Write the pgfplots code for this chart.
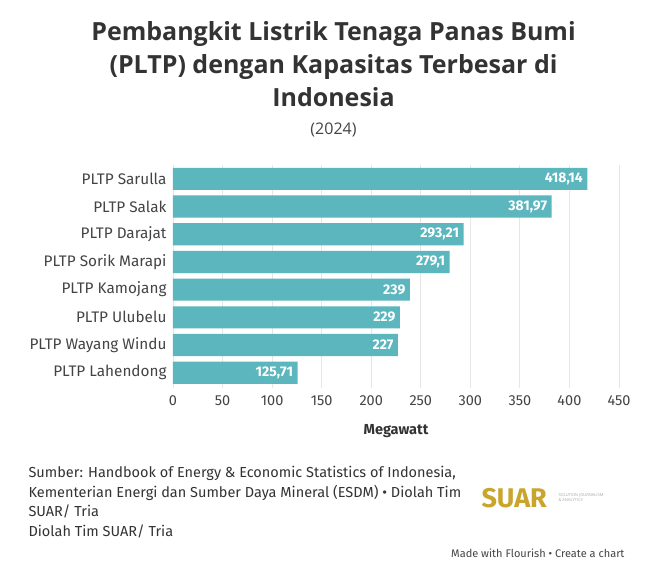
\documentclass[border=0pt]{standalone}
\usepackage{pgfplots}
\pgfplotsset{compat=1.18}
\usepackage{fontspec}
\setmainfont{Open Sans}
\newfontfamily\labfont{Fira Sans}
\definecolor{barc}{HTML}{5BB6BE}
\definecolor{txt}{HTML}{333333}
\definecolor{ticktxt}{HTML}{444444}
\definecolor{gridc}{HTML}{E6E6E6}
\definecolor{gold}{HTML}{C9A52E}
\pgfplotstableread[col sep=comma]{
idx,val,lab
0,125.71,{125,71}
1,227,227
2,229,229
3,239,239
4,279.1,{279,1}
5,293.21,{293,21}
6,381.97,{381,97}
7,418.14,{418,14}
}\datatab
\begin{document}
\begin{tikzpicture}[x=1pt,y=1pt]
\fill[white] (0,0) rectangle (667,567);
% title
\node[font=\fontsize{25}{33}\selectfont\bfseries, text=txt, align=center, anchor=center] at (333.5,503) {Pembangkit Listrik Tenaga Panas Bumi\\(PLTP) dengan Kapasitas Terbesar di\\Indonesia};
\node[font=\fontsize{16}{18}\selectfont, text=ticktxt, anchor=center] at (333.5,437) {(2024)};
\begin{axis}[
  at={(173pt,179pt)}, anchor=south west,
  scale only axis, width=446pt, height=223pt,
  xbar, bar width=0.8,
  xmin=0, xmax=450, ymin=-0.55, ymax=7.5,
  xtick={0,50,...,450},
  ytick={0,...,7},
  yticklabels={PLTP Lahendong,PLTP Wayang Windu,PLTP Ulubelu,PLTP Kamojang,PLTP Sorik Marapi,PLTP Darajat,PLTP Salak,PLTP Sarulla},
  axis line style={draw=none},
  major tick length=0pt,
  xmajorgrids, grid style={gridc, line width=0.8pt},
  tick label style={font=\labfont\fontsize{14.5}{17}\selectfont, text=ticktxt},
  yticklabel style={xshift=-3pt, font=\labfont\fontsize{15.3}{17}\selectfont},
  xticklabel style={yshift=-4pt},
  xlabel={\labfont\bfseries Megawatt},
  xlabel style={font=\fontsize{14.5}{17}\selectfont, text=txt, yshift=-12pt},
  point meta=explicit symbolic,
  nodes near coords,
  nodes near coords style={anchor=east, font=\labfont\bfseries\fontsize{14}{16}\selectfont, text=white, xshift=-1pt},
  /pgf/number format/assume math mode=true,
]
\addplot[fill=barc, draw=none] table[x=val, y=idx, meta=lab] {\datatab};
\end{axis}
% footer
\node[font=\labfont\fontsize{14.5}{19.5}\selectfont, text=txt, align=left, anchor=north west] at (25,104) {Sumber: Handbook of Energy \& Economic Statistics of Indonesia,\\Kementerian Energi dan Sumber Daya Mineral (ESDM) • Diolah Tim\\SUAR/ Tria\\Diolah Tim SUAR/ Tria};
\node[font=\labfont\bfseries\fontsize{27}{30}\selectfont, text=gold, anchor=west] at (478,69) {SUAR};
\node[font=\fontsize{4}{5}\selectfont, text=gray!70, align=left, anchor=west] at (555,69) {SOLUTION JOURNALISM\\\& ANALYTICS};
\node[font=\labfont\fontsize{11}{13}\selectfont, text=ticktxt, anchor=east] at (628,14) {Made with Flourish • Create a chart};
\end{tikzpicture}
\end{document}
